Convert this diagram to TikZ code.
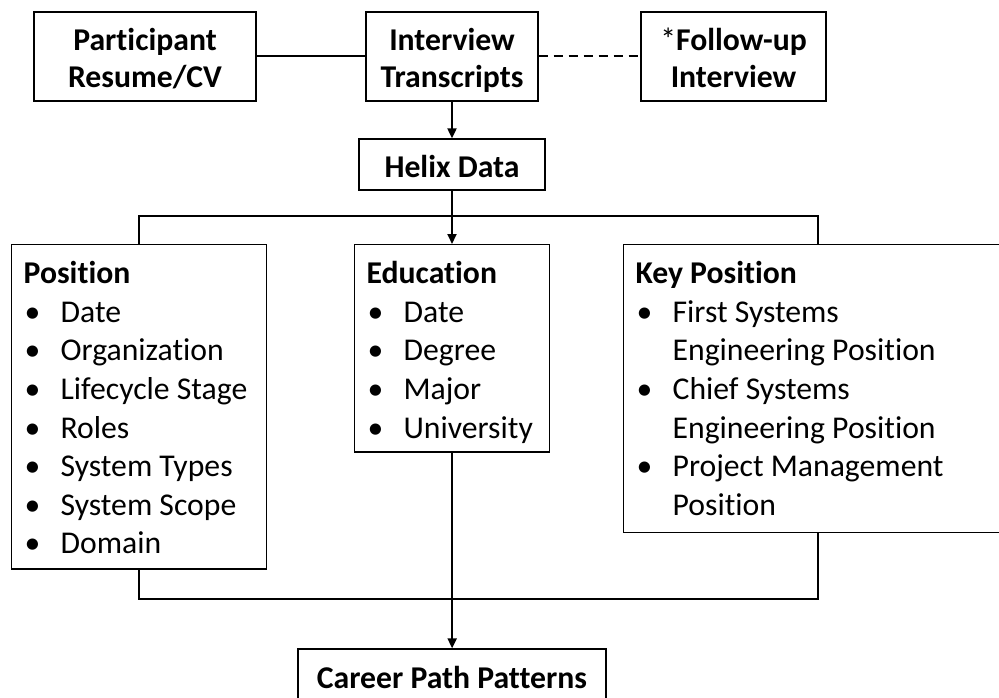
\documentclass[tikz,border=0pt]{standalone}
\usepackage{fontspec}
\setmainfont{Carlito}[Ligatures={NoCommon,NoRare}]
\usetikzlibrary{arrows.meta}
\newcommand{\tpad}{\rule{0pt}{39pt}}
\newcommand{\bpad}[1]{\rule[-#1]{0pt}{#1}}
\newcommand{\bitem}[1]{\strut\makebox[37pt][l]{\hspace{1pt}\textbullet}#1}
\newcommand{\bcont}[1]{\strut\hspace*{37pt}#1}

\begin{document}
\begin{tikzpicture}[
		x=1pt, y=-1pt,
		>={Triangle[length=10pt,width=9pt]},
		box/.style={draw, line width=1.3pt, inner sep=0pt, align=center,
			font=\fontsize{31.7}{37}\selectfont\bfseries},
		listbox/.style={draw, line width=1.3pt, anchor=north west, inner xsep=12pt,
			inner ysep=0pt, align=flush left, font=\fontsize{31.7}{38.6}\selectfont},
		link/.style={line width=2pt},
	]
		\clip[use as bounding box] (0,0) rectangle (999,698);

		% sources
		\node[box, minimum width=222pt, minimum height=89pt] (resume) at (145,56.5) {\tpad Participant\\Resume/CV\bpad{13pt}};
		\node[box, minimum width=172pt, minimum height=89pt] (transcripts) at (452,56.5) {\tpad Interview\\Transcripts\bpad{13pt}};
		\node[box, minimum width=185pt, minimum height=89pt] (followup) at (733.5,56.5) {\tpad{\mdseries*}Follow-up\\Interview\bpad{13pt}};
		\node[box, minimum width=186pt, minimum height=51pt] (helix) at (452,164.5) {\tpad Helix Data\bpad{12pt}};

		% categories
		\node[listbox, text width=231pt] (position) at (11,244) {\tpad\textbf{Position}\\
			\bitem{Date}\\ \bitem{Organization}\\ \bitem{Lifecycle Stage}\\ \bitem{Roles}\\
			\bitem{System Types}\\ \bitem{System Scope}\\ \bitem{Domain}\bpad{15pt}};
		\node[listbox, text width=171pt] (education) at (354,244) {\tpad\textbf{Education}\\
			\bitem{Date}\\ \bitem{Degree}\\ \bitem{Major}\\ \bitem{University}\bpad{14pt}};
		\node[listbox, text width=364pt] (keypos) at (623,244) {\tpad\textbf{Key Position}\\
			\bitem{First Systems}\\ \bcont{Engineering Position}\\ \bitem{Chief Systems}\\
			\bcont{Engineering Position}\\ \bitem{Project Management}\\ \bcont{Position}\bpad{17pt}};

		% result
		\node[box, minimum width=308pt, minimum height=51pt] (career) at (452,674.5) {\tpad Career Path Patterns\bpad{12pt}};

		\coordinate (split) at (452,216);
		\coordinate (merge) at (452,599);

		% connectors
		\draw[link] (resume) -- (transcripts);
		\draw[link, dash pattern=on 9pt off 6pt] (transcripts) -- (followup);
		\draw[link, ->] (transcripts) -- (helix);
		\draw[link, ->] (helix.south) -- (helix.south |- education.north);
		\draw[link] (position.north) |- (split) -| (keypos.north);
		\draw[link] (position.south) |- (merge) -| (keypos.south);
		\draw[link, ->] (education.south) -- (education.south |- career.north);
	\end{tikzpicture}
\end{document}
